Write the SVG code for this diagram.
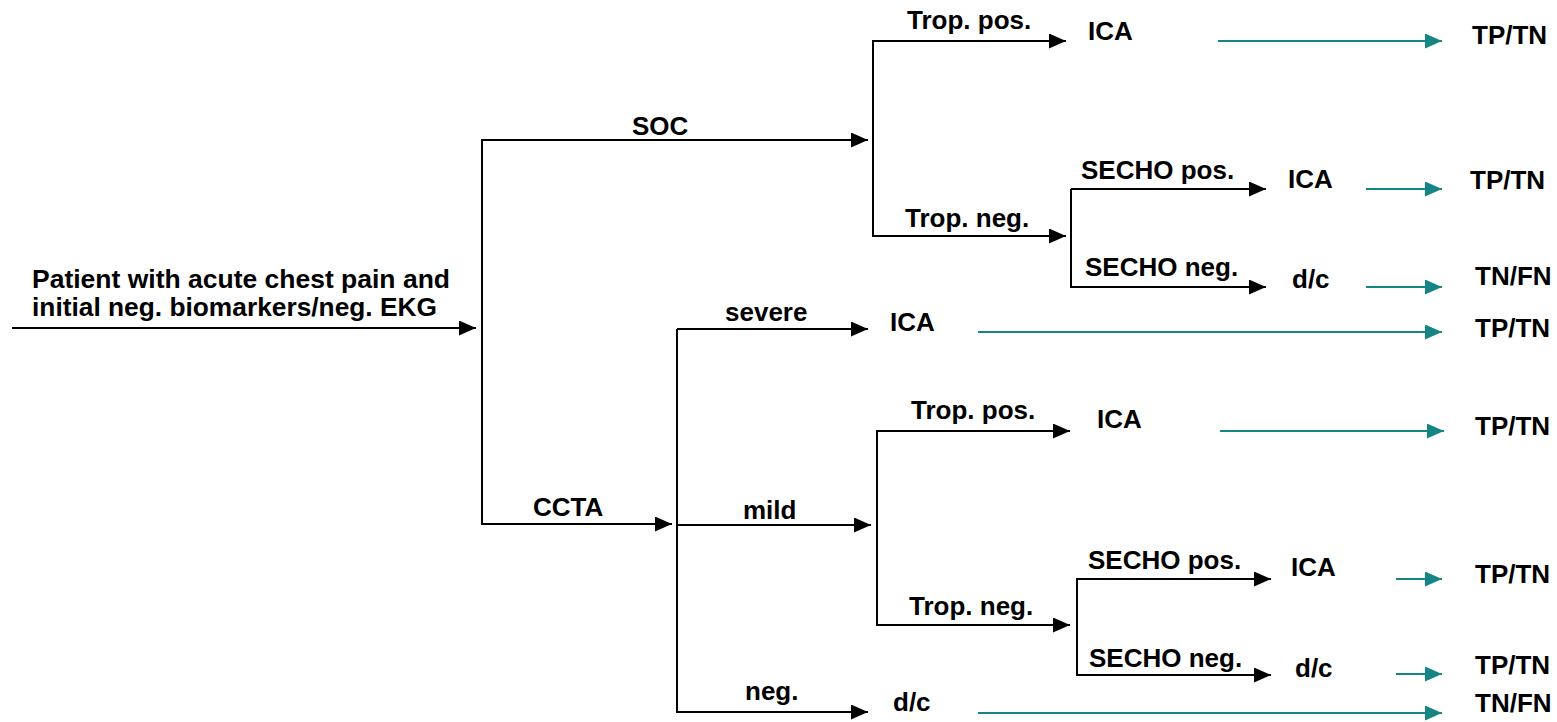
<svg xmlns="http://www.w3.org/2000/svg" width="1557" height="722" viewBox="0 0 1557 722">
<style>
text{font-family:"Liberation Sans",Arial,sans-serif;font-weight:bold;font-size:26px;fill:#000}
.k{stroke:#000;stroke-width:2;fill:none}
.a{marker-end:url(#ab)}
.t{stroke:#148585;stroke-width:2;fill:none;marker-end:url(#at)}
</style>
<defs>
<marker id="ab" markerUnits="userSpaceOnUse" markerWidth="17" markerHeight="15" refX="17" refY="7.5" orient="auto"><path d="M0,0L17,7.5L0,15z" fill="#000"/></marker>
<marker id="at" markerUnits="userSpaceOnUse" markerWidth="17" markerHeight="15" refX="17" refY="7.5" orient="auto"><path d="M0,0L17,7.5L0,15z" fill="#148585"/></marker>
</defs>
<rect width="1557" height="722" fill="#fff"/>
<g id="connectors">
<path class="k a" d="M12,328H476"/>
<path class="k" d="M482,139V525"/>
<path class="k a" d="M482,140H868"/>
<path class="k a" d="M482,524H672"/>
<path class="k" d="M873,40V237"/>
<path class="k a" d="M873,41H1066"/>
<path class="k a" d="M873,236H1066"/>
<path class="k" d="M1071,189V288"/>
<path class="k a" d="M1071,189H1266"/>
<path class="k a" d="M1071,287H1266"/>
<path class="k" d="M677,329V713"/>
<path class="k a" d="M677,329H868"/>
<path class="k a" d="M677,525H871"/>
<path class="k a" d="M677,712H868"/>
<path class="k" d="M877,430V626"/>
<path class="k a" d="M877,431H1070"/>
<path class="k a" d="M877,625H1070"/>
<path class="k" d="M1077,578V676"/>
<path class="k a" d="M1077,579H1271"/>
<path class="k a" d="M1077,675H1271"/>
<path class="t" d="M1218,41H1442"/>
<path class="t" d="M1366,189H1442"/>
<path class="t" d="M1366,287H1442"/>
<path class="t" d="M978,332H1442"/>
<path class="t" d="M1220,431H1444"/>
<path class="t" d="M1396,579H1442"/>
<path class="t" d="M1396,674H1442"/>
<path class="t" d="M978,713H1442"/>
</g>
<g id="labels">
<text x="632" y="135">SOC</text>
<text x="533" y="516">CCTA</text>
<text x="907" y="29">Trop. pos.</text>
<text x="905" y="227">Trop. neg.</text>
<text x="1081" y="179">SECHO pos.</text>
<text x="1085" y="276">SECHO neg.</text>
<text x="725" y="321">severe</text>
<text x="743" y="519">mild</text>
<text x="745" y="700">neg.</text>
<text x="911" y="419">Trop. pos.</text>
<text x="909" y="615">Trop. neg.</text>
<text x="1088" y="569">SECHO pos.</text>
<text x="1089" y="667">SECHO neg.</text>
</g>
<g id="start"><text x="32" y="288" textLength="418" lengthAdjust="spacingAndGlyphs">Patient with acute chest pain and</text><text x="32" y="316" textLength="405" lengthAdjust="spacingAndGlyphs">initial neg. biomarkers/neg. EKG</text></g>
<g id="ica1"><text x="1088" y="40">ICA</text></g>
<g id="out1"><text x="1472" y="44">TP/TN</text></g>
<g id="ica2"><text x="1288" y="188">ICA</text></g>
<g id="out2"><text x="1470" y="189">TP/TN</text></g>
<g id="dc1"><text x="1292" y="288">d/c</text></g>
<g id="out3"><text x="1475" y="285">TN/FN</text></g>
<g id="ica3"><text x="890" y="331">ICA</text></g>
<g id="out4"><text x="1475" y="337">TP/TN</text></g>
<g id="ica4"><text x="1097" y="428">ICA</text></g>
<g id="out5"><text x="1475" y="435">TP/TN</text></g>
<g id="ica5"><text x="1291" y="576">ICA</text></g>
<g id="out6"><text x="1475" y="583">TP/TN</text></g>
<g id="dc2"><text x="1295" y="677">d/c</text></g>
<g id="out7"><text x="1475" y="674">TP/TN</text></g>
<g id="dc3"><text x="893" y="711">d/c</text></g>
<g id="out8"><text x="1475" y="712">TN/FN</text></g>
</svg>
